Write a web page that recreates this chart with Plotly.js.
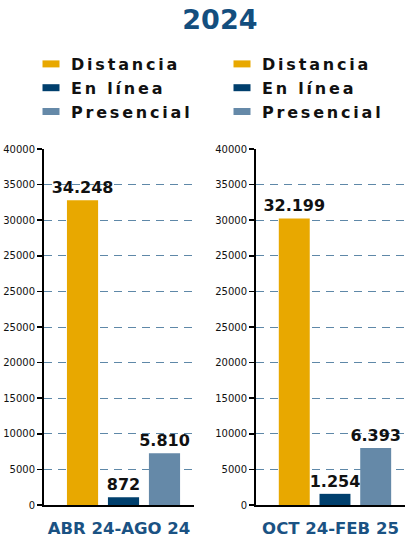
<!DOCTYPE html>
<html><head><meta charset="utf-8">
<script src="https://cdn.plot.ly/plotly-3.0.1.min.js"></script>
<style>
html,body{margin:0;padding:0;background:#fff;}
#chart{width:405px;height:538px;}
.legendtext,.legend2text{letter-spacing:2.8px;}
</style></head><body><div id="chart"></div>
<script>
const chartTitle = "2024";
const periods = ["ABR 24-AGO 24", "OCT 24-FEB 25"];
const categories = ["Distancia", "En línea", "Presencial"];
const distancia = [34248, 32199];
const enLinea = [872, 1254];
const presencial = [5810, 6393];
const yTickLabels = ["0","5000","10000","15000","20000","25000","25000","25000","30000","35000","40000"];
const yMax = 40000;
const colors = ["#E8A800", "#003F6D", "#6589A8"];

const series = [distancia, enLinea, presencial];
const yTickVals = yTickLabels.map((_, i) => i * yMax / (yTickLabels.length - 1));

const traces = [];
periods.forEach((p, pi) => {
  categories.forEach((c, ci) => {
    traces.push({
      type: 'bar',
      x: [c],
      y: [series[ci][pi]],
      name: c,
      xaxis: pi ? 'x2' : 'x',
      yaxis: pi ? 'y2' : 'y',
      legend: pi ? 'legend2' : 'legend',
      marker: {color: colors[ci]},
      width: 0.76,
      texttemplate: '%{y:,}',
      textposition: 'outside',
      constraintext: 'none',
      cliponaxis: false,
      textfont: {family: 'DejaVu Sans', size: 16, weight: 'bold', color: '#111'},
      hoverinfo: 'skip'
    });
  });
});

const axisTitleFont = {family: 'DejaVu Sans', size: 16.5, weight: 'bold', color: '#1A5283'};
function xAxis(dom, anchor, label) {
  return {
    domain: dom, anchor: anchor, type: 'category', categoryarray: categories,
    range: [-0.94, 2.72], showticklabels: false, ticks: '',
    showline: true, linecolor: '#000', linewidth: 2,
    showgrid: false, zeroline: false, fixedrange: true, automargin: false,
    title: {text: label, font: axisTitleFont, standoff: 16}
  };
}
function yAxis(anchor) {
  return {
    anchor: anchor, domain: [0, 1], range: [0, yMax],
    tickvals: yTickVals, ticktext: yTickLabels,
    ticks: 'outside', ticklen: 5, tickcolor: '#000', tickwidth: 1.5,
    showline: true, linecolor: '#000', linewidth: 2,
    showgrid: true, gridcolor: '#5E88A8', gridwidth: 1, griddash: '8px,6px',
    zeroline: false, fixedrange: true, automargin: false,
    tickfont: {family: 'DejaVu Sans', size: 10, color: '#111'}
  };
}
const legendFont = {family: 'DejaVu Sans', size: 16, weight: 'bold', color: '#111'};
const layout = {
  width: 405, height: 538,
  margin: {l: 0, r: 0, t: 149, b: 33, pad: 0, autoexpand: false},
  paper_bgcolor: '#fff', plot_bgcolor: '#fff',
  separators: ',.',
  barmode: 'overlay',
  showlegend: true,
  font: {family: 'DejaVu Sans', color: '#111'},
  title: {text: chartTitle, font: {family: 'DejaVu Sans', size: 27, weight: 'bold', color: '#134E7E'},
          x: 0.543, xanchor: 'center', xref: 'container', y: 1 - 20/538, yanchor: 'middle', yref: 'container'},
  xaxis: xAxis([44/405, 194/405], 'y', periods[0]),
  yaxis: yAxis('x'),
  xaxis2: xAxis([256/405, 1], 'y2', periods[1]),
  yaxis2: yAxis('x2'),
  legend: {x: 31/405, xanchor: 'left', xref: 'container', y: 1 - 47/538, yanchor: 'top', yref: 'container',
           font: legendFont, bgcolor: 'rgba(0,0,0,0)', tracegroupgap: 0},
  legend2: {x: 222/405, xanchor: 'left', xref: 'container', y: 1 - 47/538, yanchor: 'top', yref: 'container',
           font: legendFont, bgcolor: 'rgba(0,0,0,0)', tracegroupgap: 0}
};

Plotly.newPlot('chart', traces, layout, {displayModeBar: false, staticPlot: true}).then(gd => {
  gd.querySelectorAll('.legendpoints path').forEach(p => p.setAttribute('d', 'M8.5,3.5H-8.5V-3.5H8.5Z'));
});
</script>
</body></html>
